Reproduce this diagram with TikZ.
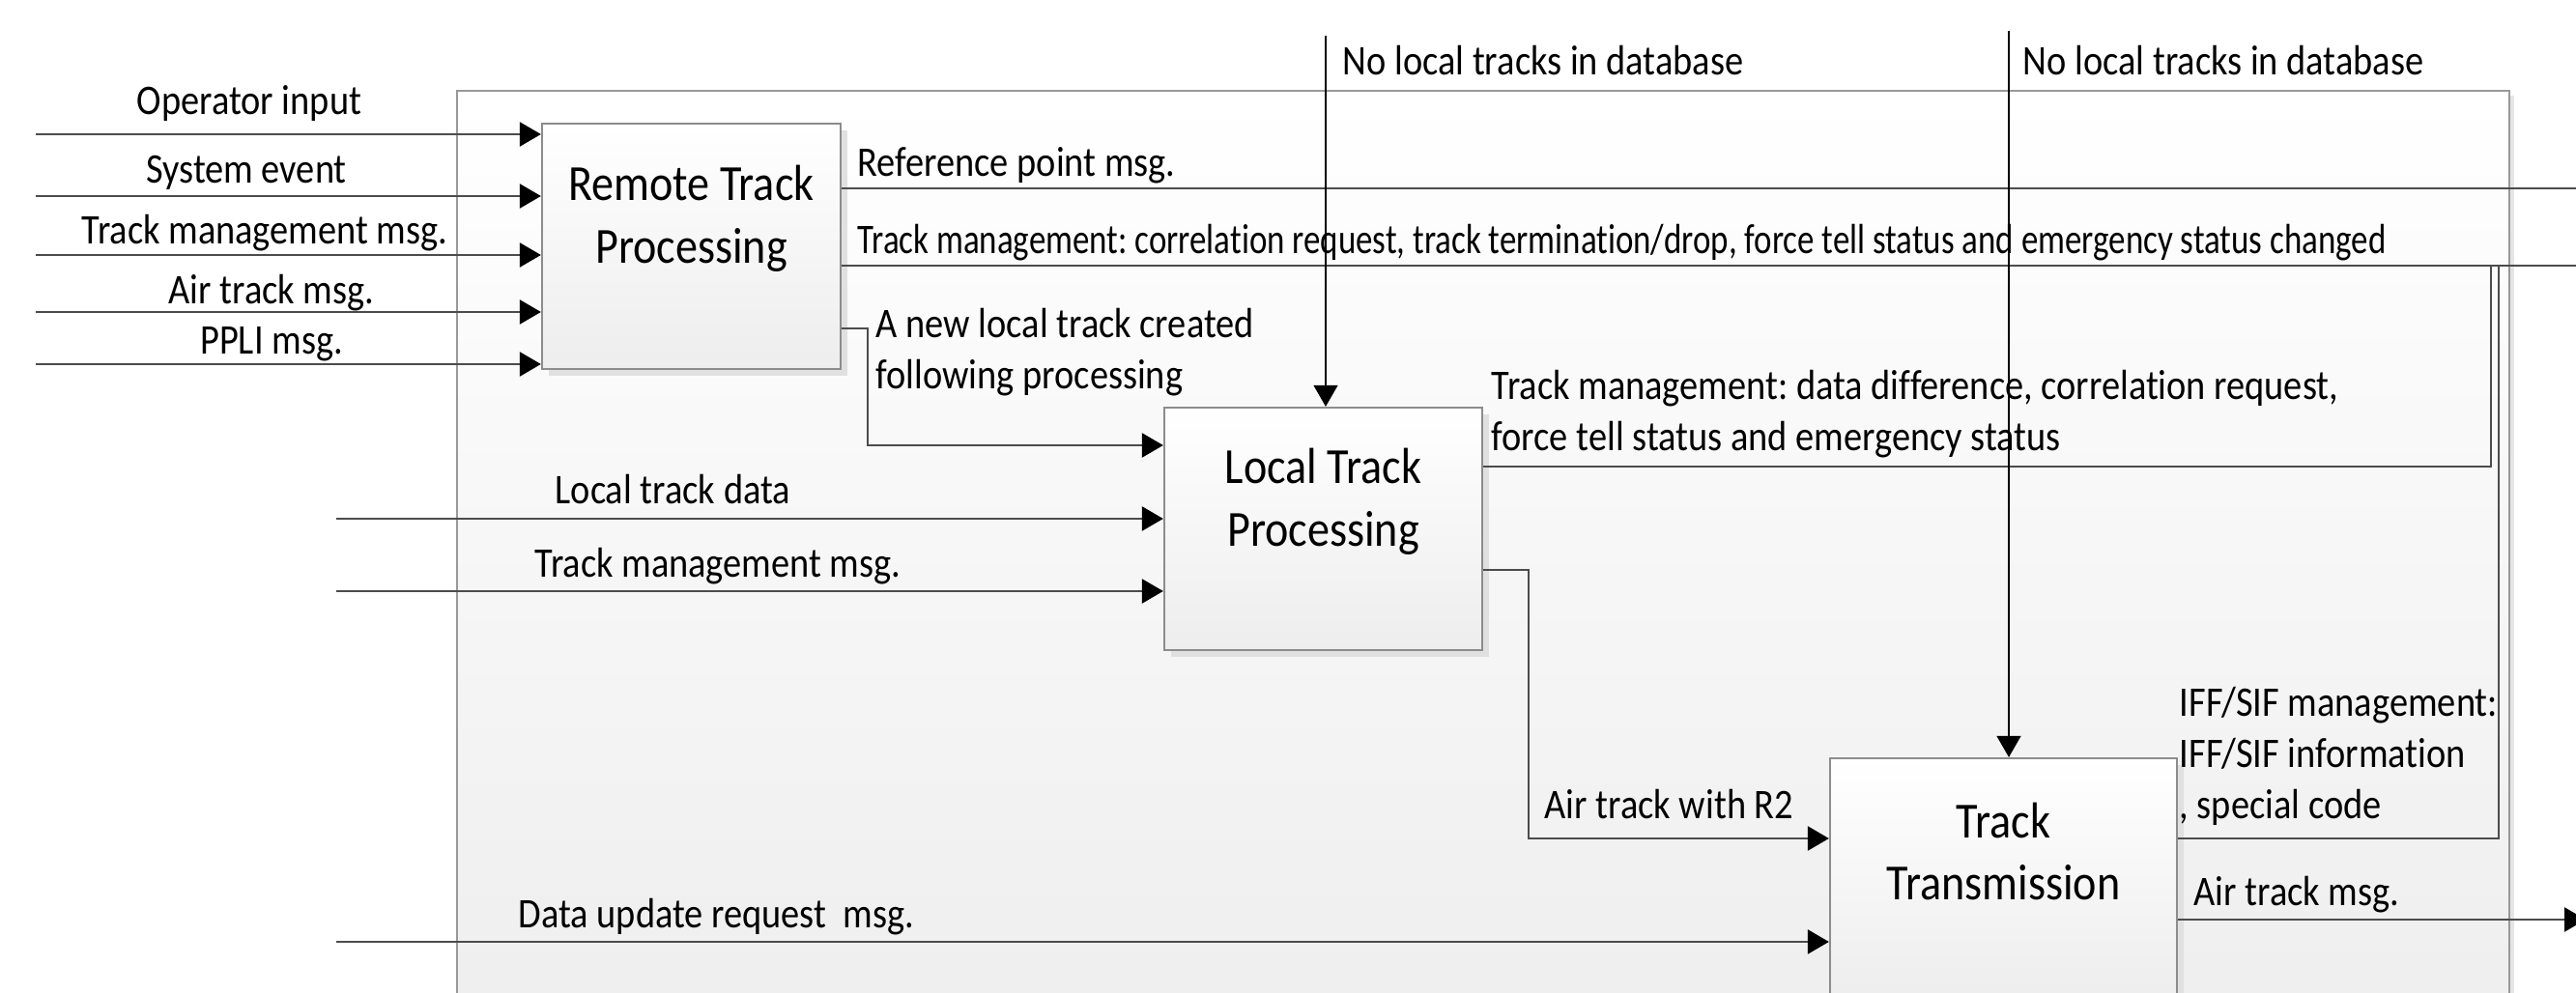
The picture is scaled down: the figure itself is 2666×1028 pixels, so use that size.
\documentclass[tikz,border=0pt]{standalone}
\usepackage{fontspec}
\usepackage{graphicx}
\setmainfont{Carlito}[FakeStretch=0.88, Ligatures=NoCommon]
\usetikzlibrary{arrows.meta,positioning,shadows}
\frenchspacing

\tikzset{
  func/.style={draw=black!45, line width=0.6pt, top color=white, bottom color=black!7,
    drop shadow={shadow xshift=0.07cm, shadow yshift=-0.07cm, fill=black!12, opacity=1}},
  ftitle/.style={inner sep=0pt, align=center, font=\fontsize{14.9}{18.4}\selectfont},
  lbl/.style={inner sep=0pt, align=left, font=\fontsize{12.4}{15.1}\selectfont},
  flow/.style={draw=black!70, line width=0.7pt},
  ctrl/.style={draw=black, line width=0.35pt},
  flowarrow/.style={-{Triangle[length=0.22cm,width=0.25cm,color=black]}},
}

\begin{document}
\begin{tikzpicture}[x=0.01cm, y=-0.01cm]
    \useasboundingbox (0,0) rectangle (2666,1028);
    \clip (0,0) rectangle (2666,1028);

    % frame of the parent activity
    \draw[draw=black!40, line width=0.6pt, top color=white, bottom color=black!7,
      drop shadow={shadow xshift=0.05cm, shadow yshift=-0.05cm, fill=black!10, opacity=1}]
      (473,94) rectangle (2597,1120);

    % activities
    \node[func, minimum width=3.09cm, minimum height=2.54cm] (rtp) at (715.5,255) {};
    \node[func, minimum width=3.29cm, minimum height=2.51cm] (ltp) at (1369.5,547.5) {};
    \node[func, minimum width=3.59cm, minimum height=2.51cm] (tt) at (2073.5,910.5) {};
    \node[ftitle] (rtpname) at ([yshift=0.29cm]rtp.center) {Remote Track\\Processing};
    \node[ftitle] (ltpname) at ([yshift=0.28cm]ltp.center) {Local Track\\Processing};
    \node[ftitle] (ttname) at ([yshift=0.29cm]tt.center) {Track\\Transmission};

    % free ends
    \coordinate (opin) at (37,139);
    \coordinate (sysev) at (37,203);
    \coordinate (tmin) at (37,264);
    \coordinate (airin) at (37,323);
    \coordinate (ppin) at (37,377);
    \coordinate (ltdin) at (348,537);
    \coordinate (tmmin) at (348,612);
    \coordinate (dupin) at (348,975);
    \coordinate (refout) at (2666,195);
    \coordinate (tmout) at (2666,275);
    \coordinate (newbend) at (898,340);
    \coordinate (newin) at (898,461);
    \coordinate (ctlltp) at (1372,37);
    \coordinate (ctltt) at (2079,32);
    \coordinate (ltpout) at (2578,483);
    \coordinate (r2bend) at (1582,590);
    \coordinate (r2in) at (1582,868);
    \coordinate (iffout) at (2586,868);
    \coordinate (airout) at (2676,952);

    % inputs
    \draw[flow, flowarrow] (opin) -- (opin -| rtp.west);
    \draw[flow, flowarrow] (sysev) -- (sysev -| rtp.west);
    \draw[flow, flowarrow] (tmin) -- (tmin -| rtp.west);
    \draw[flow, flowarrow] (airin) -- (airin -| rtp.west);
    \draw[flow, flowarrow] (ppin) -- (ppin -| rtp.west);
    \draw[flow, flowarrow] (ltdin) -- (ltdin -| ltp.west);
    \draw[flow, flowarrow] (tmmin) -- (tmmin -| ltp.west);
    \draw[flow, flowarrow] (dupin) -- (dupin -| tt.west);

    % outputs
    \draw[flow] (refout -| rtp.east) -- (refout);
    \draw[flow] (tmout -| rtp.east) -- (tmout);
    \draw[flow, flowarrow] (newbend -| rtp.east) -- (newbend) -- (newin) -- (newin -| ltp.west);
    \draw[flow] (ltpout -| ltp.east) -- (ltpout) -- (ltpout |- tmout);
    \draw[flow, flowarrow] (r2bend -| ltp.east) -- (r2bend) -- (r2in) -- (r2in -| tt.west);
    \draw[flow] (iffout -| tt.east) -- (iffout) -- (iffout |- tmout);
    \draw[flow, flowarrow] (airout -| tt.east) -- (airout);

    % controls
    \draw[ctrl, flowarrow] (ctlltp) -- (ctlltp |- ltp.north);
    \draw[ctrl, flowarrow] (ctltt) -- (ctltt |- tt.north);

    % labels
    \node[lbl, anchor=base] (lopin) at (258,119) {Operator input};
    \node[lbl, anchor=base] (lsysev) at (255,190) {System event};
    \node[lbl, anchor=base] (ltmin) at (274,253) {Track management msg.};
    \node[lbl, anchor=base] (lairin) at (281,315) {Air track msg.};
    \node[lbl, anchor=base] (lppin) at (281,367) {PPLI msg.};
    \node[lbl, anchor=base west] (lltdin) at (574,522) {Local track data};
    \node[lbl, anchor=base west] (ltmmin) at (553,598) {Track management msg.};
    \node[lbl, anchor=base west] (ldupin) at (536,961) {Data update request~ msg.};
    \node[lbl, anchor=base west] (lrefout) at (887,183) {Reference point msg.};
    \node[lbl, anchor=base west] (ltmout) at (887,263)
      {\scalebox{0.91}[1]{Track management: correlation request, track termination/drop, force tell status and emergency status changed}};
    \node[lbl, anchor=base west] (lnew) at (906,403) {A new local track created\\following processing};
    \node[lbl, anchor=base west] (lctlltp) at (1389,78) {No local tracks in database};
    \node[lbl, anchor=base west] (lctltt) at (2093,78) {No local tracks in database};
    \node[lbl, anchor=base west] (lltpout) at (1543,467)
      {Track management: data difference, correlation request,\\force tell status and emergency status};
    \node[lbl, anchor=base west] (lr2) at (1598,848) {Air track with R2};
    \node[lbl, anchor=base west] (liff) at (2255,848) {IFF/SIF management:\\IFF/SIF information\\, special code};
    \node[lbl, anchor=base west] (lairout) at (2270,938) {Air track msg.};
\end{tikzpicture}
\end{document}
